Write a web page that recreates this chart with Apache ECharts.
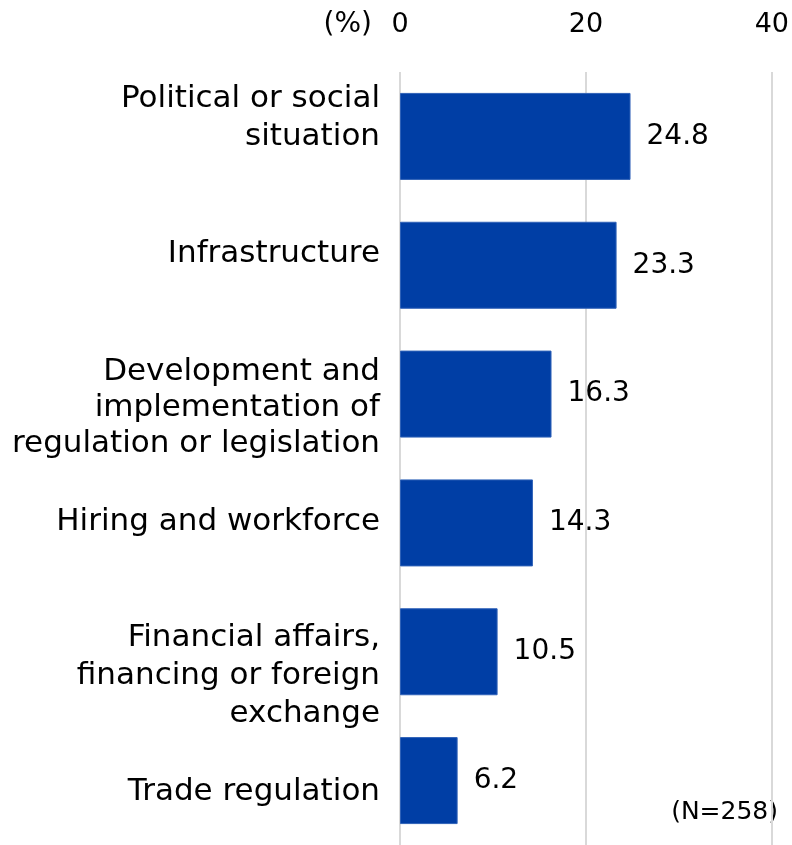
<!DOCTYPE html>
<html>
<head>
<meta charset="utf-8">
<script src="https://cdn.jsdelivr.net/npm/echarts@6/dist/echarts.min.js"></script>
<style>
  html, body { margin: 0; padding: 0; background: #fff; }
  #chart { width: 792px; height: 845px; }
</style>
</head>
<body>
<div id="chart"></div>
<script>
const categories = [
  "Political or social\nsituation",
  "Infrastructure",
  "Development and\nimplementation of\nregulation or legislation",
  "Hiring and workforce",
  "Financial affairs,\nfinancing or foreign\nexchange",
  "Trade regulation",
];
const values = [24.8, 23.3, 16.3, 14.3, 10.5, 6.2];
const sampleNote = "(N=258)";
const unitLabel = "(%)";

// the source places its category labels a little off the bar centres
const labelShift = [-18, -11, 14, -1, 24, 11];

const font = "'DejaVu Sans', Verdana, sans-serif";
const chart = echarts.init(document.getElementById("chart"));

const rich = {
  t: { fontSize: 31, lineHeight: 38, color: "#000", fontFamily: font },
  t36: { fontSize: 31, lineHeight: 36, color: "#000", fontFamily: font },
};
labelShift.forEach((s, i) => {
  rich["g" + i] = { fontSize: 1, lineHeight: Math.max(1, 2 * Math.abs(s)) };
});

function categoryLabel(value, index) {
  const key = index === 2 ? "t36" : "t";
  const lines = value.split("\n").map((l) => `{${key}|${l}}`);
  const s = labelShift[index];
  const gap = `{g${index}| }`;
  if (s > 0) lines.unshift(gap);
  else if (s < 0) lines.push(gap);
  return lines.join("\n");
}

chart.setOption({
  animation: false,
  grid: { left: 400, right: 20, top: 72, height: 776, containLabel: false },
  xAxis: {
    type: "value",
    position: "top",
    min: 0,
    max: 40,
    interval: 20,
    axisLine: { show: false },
    axisTick: { show: false },
    axisLabel: { fontSize: 27, color: "#000", fontFamily: font, margin: 34 },
    splitLine: { lineStyle: { color: "#d9d9d9", width: 2 } },
  },
  yAxis: {
    type: "category",
    inverse: true,
    data: categories,
    axisLine: { show: false },
    axisTick: { show: false },
    axisLabel: {
      margin: 20,
      align: "right",
      formatter: categoryLabel,
      rich: rich,
    },
  },
  series: [
    {
      type: "bar",
      data: values,
      barWidth: 87,
      itemStyle: { color: "#003ea5", borderColor: "#2f62b8", borderWidth: 1 },
      label: {
        show: true,
        position: "right",
        distance: 16,
        fontSize: 28,
        color: "#000",
        fontFamily: font,
        formatter: (p) => p.value.toFixed(1),
      },
    },
  ],
  graphic: [
    {
      type: "text",
      right: 420,
      top: 11,
      style: { text: unitLabel, fontSize: 28, fill: "#000", fontFamily: font },
    },
    {
      type: "text",
      right: 14,
      top: 800,
      style: { text: sampleNote, fontSize: 25, fill: "#000", fontFamily: font },
    },
  ],
});
</script>
</body>
</html>
